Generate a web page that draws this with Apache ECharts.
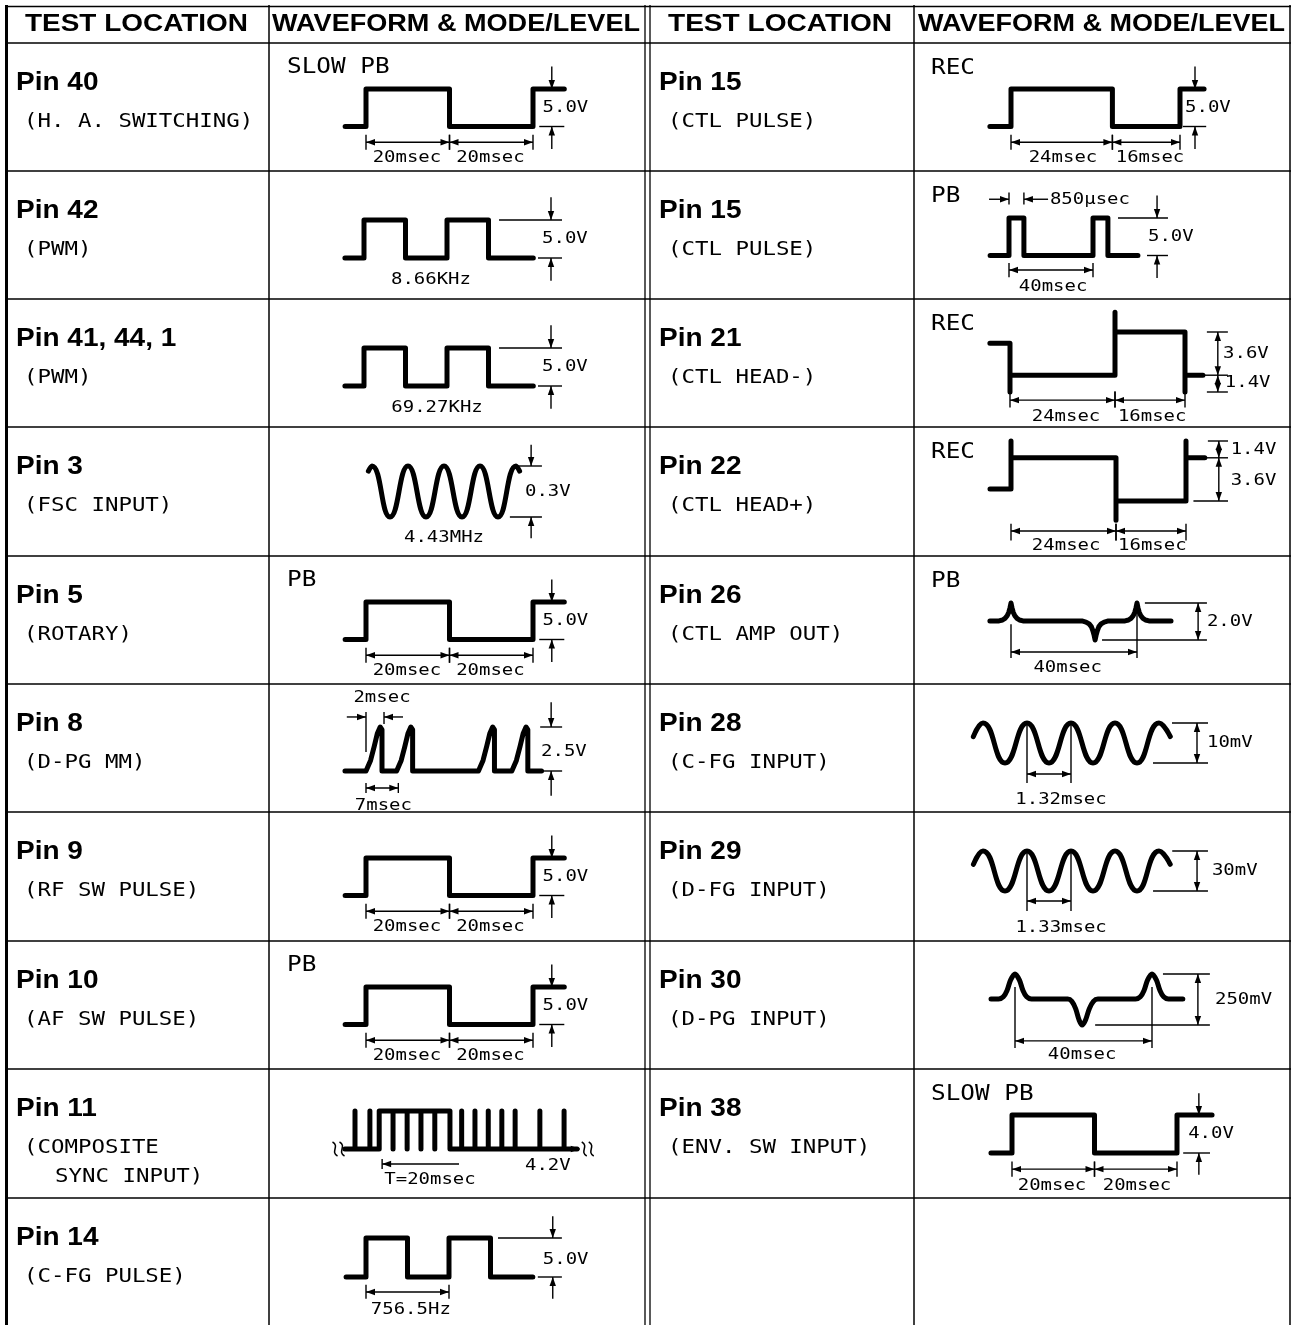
<!DOCTYPE html>
<html><head><meta charset="utf-8">
<script src="https://cdn.jsdelivr.net/npm/echarts@6/dist/echarts.min.js"></script>
<style>html,body{margin:0;padding:0;background:#fff}#c{width:1293px;height:1325px}</style>
</head><body><div id="c"></div>
<script>
// ================= DATA =================
const headerLabels = ['TEST LOCATION', 'WAVEFORM & MODE/LEVEL'];
const leftPins  = ['Pin 40','Pin 42','Pin 41, 44, 1','Pin 3','Pin 5','Pin 8','Pin 9','Pin 10','Pin 11','Pin 14'];
const leftNames = ['(H. A. SWITCHING)','(PWM)','(PWM)','(FSC INPUT)','(ROTARY)','(D-PG MM)','(RF SW PULSE)','(AF SW PULSE)',['(COMPOSITE','SYNC INPUT)'],'(C-FG PULSE)'];
const leftModes = ['SLOW PB','','','','PB','','','PB','',''];
const rightPins  = ['Pin 15','Pin 15','Pin 21','Pin 22','Pin 26','Pin 28','Pin 29','Pin 30','Pin 38'];
const rightNames = ['(CTL PULSE)','(CTL PULSE)','(CTL HEAD-)','(CTL HEAD+)','(CTL AMP OUT)','(C-FG INPUT)','(D-FG INPUT)','(D-PG INPUT)','(ENV. SW INPUT)'];
const rightModes = ['REC','PB','REC','REC','PB','','','','SLOW PB'];

// waveforms: [time, level]
const pin40Wave = [[-5,0],[0,0],[0,5],[20,5],[20,0],[40,0],[40,5],[47.5,5]];          // ms, V
const pin42Wave = [[-0.23,0],[0,0],[0,5],[0.5,5],[0.5,0],[1,0],[1,5],[1.5,5],[1.5,0],[2.04,0]]; // periods, V
const pin41Wave = [[-0.23,0],[0,0],[0,5],[0.5,5],[0.5,0],[1,0],[1,5],[1.5,5],[1.5,0],[2.04,0]];
const pin3Wave  = [[-0.1,0.27],[0,0.3],[0.5,0],[1,0.3],[1.5,0],[2,0.3],[2.5,0],[3,0.3],[3.5,0],[4,0.3],[4.1,0.27]]; // periods, V
const pin5Wave  = [[-5,0],[0,0],[0,5],[20,5],[20,0],[40,0],[40,5],[47.5,5]];
const pin8Wave  = [[-4.6,0],[0,0],[1.0,0.6],[1.8,1.4],[2.5,2.15],[3.1,2.5],[3.5,2.35],[3.5,0],
                   [6.7,0],[7.7,0.6],[8.5,1.4],[9.2,2.15],[9.8,2.5],[10.2,2.35],[10.2,0],
                   [24.6,0],[25.6,0.6],[26.4,1.4],[27.1,2.15],[27.7,2.5],[28.1,2.35],[28.1,0],
                   [31.9,0],[32.9,0.6],[33.7,1.4],[34.4,2.15],[35.0,2.5],[35.4,2.35],[35.4,0],[38.4,0]];
const pin9Wave  = [[-5,0],[0,0],[0,5],[20,5],[20,0],[40,0],[40,5],[47.5,5]];
const pin10Wave = [[-5,0],[0,0],[0,5],[20,5],[20,0],[40,0],[40,5],[47.5,5]];
const pin11Wave = [[-0.38,0],[0,0],[0,4.2],[0,0],[0.56,0],[0.56,4.2],[0.56,0],[0.91,0],[0.91,4.2],
                   [1.43,4.2],[1.43,0],[1.43,4.2],[1.96,4.2],[1.96,0],[1.96,4.2],[2.48,4.2],[2.48,0],[2.48,4.2],
                   [3.0,4.2],[3.0,0],[3.0,4.2],[3.57,4.2],[3.57,0],
                   [4.01,0],[4.01,4.2],[4.01,0],[4.51,0],[4.51,4.2],[4.51,0],[5.01,0],[5.01,4.2],[5.01,0],
                   [5.52,0],[5.52,4.2],[5.52,0],[6.02,0],[6.02,4.2],[6.02,0],[6.95,0],[6.95,4.2],[6.95,0],
                   [7.86,0],[7.86,4.2],[7.86,0],[8.35,0]];                                   // lines (H), V
const pin14Wave = [[-0.24,0],[0,0],[0,5],[0.5,5],[0.5,0],[1,0],[1,5],[1.5,5],[1.5,0],[2.01,0]];
const pin15RecWave = [[-5,0],[0,0],[0,5],[24,5],[24,0],[40,0],[40,5],[45.7,5]];
const pin15PbWave  = [[-9,0],[0,0],[0,5],[7.1,5],[7.1,0],[40,0],[40,5],[47.1,5],[47.1,0],[61.4,0]];
const pin21Wave = [[-4.6,2.67],[0,2.67],[0,-1.4],[0,0],[24,0],[24,5.25],[24,3.6],[40,3.6],[40,-1.4],[40,0],[44.1,0]];
const pin22Wave = [[-4.8,-2.6],[0,-2.6],[0,1.4],[0,0],[24,0],[24,-5.2],[24,-3.6],[40,-3.6],[40,1.4],[40,0],[44.3,0]];
const pin26Wave = [[-6.7,1.03],[-3.8,1.03],[-2.7,1.08],[-1.9,1.17],[-1.25,1.3],[-0.7,1.5],[-0.3,1.75],[0,2],[0.3,1.75],[0.7,1.5],[1.25,1.3],[1.9,1.17],[2.7,1.08],[3.8,1.03],
                   [22.5,1.03],[23.8,0.97],[24.8,0.87],[25.5,0.72],[26.0,0.5],[26.4,0.25],[26.7,0],[27.0,0.25],[27.4,0.5],[27.9,0.72],[28.6,0.87],[29.6,0.97],[30.9,1.03],
                   [36.2,1.03],[37.3,1.08],[38.1,1.17],[38.75,1.3],[39.3,1.5],[39.7,1.75],[40,2],[40.3,1.75],[40.7,1.5],[41.25,1.3],[41.9,1.17],[42.7,1.08],[43.8,1.03],[50.8,1.03]];
const pin28Wave = [[-0.29,6.6],[0,10],[0.66,0],[1.32,10],[1.98,0],[2.64,10],[3.3,0],[3.96,10],[4.62,0],[5.28,10],[5.62,6.6]];   // ms, mV
const pin29Wave = [[-0.29,20],[0,30],[0.665,0],[1.33,30],[1.995,0],[2.66,30],[3.325,0],[3.99,30],[4.655,0],[5.32,30],[5.66,20]];
const pin30Wave = [[-7,127],[-4.8,127],[-3.4,138],[-2.3,170],[-1.3,220],[0,250],[1.3,220],[2.3,170],[3.4,138],[4.8,127],
                   [15.4,127],[16.6,116],[17.7,80],[18.7,25],[19.6,0],[20.6,25],[21.7,80],[22.9,116],[24.2,127],
                   [35.2,127],[36.6,138],[37.7,170],[38.7,220],[40,250],[41.3,220],[42.3,170],[43.4,138],[44.8,127],[49,127]];
const pin38Wave = [[-5.1,0],[0,0],[0,4],[20,4],[20,0],[40,0],[40,4],[48.5,4]];

// annotations (in each waveform's own data units)
const ann20x20 = [['vout',44.5,5,0,3],['hline',41.5,47.5,0],['text',42.3,2.5,'5.0V','left'],
  ['hdim',0,20,-2.1,-1.1,-3.1],['hdim',20,40,-2.1,-1.1,-3.1],['text',9.8,-4.2,'20msec'],['text',29.8,-4.2,'20msec']];
const ann42 = [['vout',2.253,5,0,3],['hline',1.627,2.386,5],['hline',2.096,2.386,0],['text',2.145,2.5,'5.0V','left'],['text',0.807,-2.9,'8.66KHz']];
const ann41 = [['vout',2.253,5,0,3],['hline',1.627,2.386,5],['hline',2.096,2.386,0],['text',2.145,2.5,'5.0V','left'],['text',0.88,-2.9,'69.27KHz']];
const ann3  = [['vout',4.42,0.3,0,0.125],['hline',4.06,4.72,0.3],['hline',3.83,4.72,0],['text',4.25,0.15,'0.3V','left'],['text',2.0,-0.124,'4.43MHz']];
const ann8  = [['vout',40.5,2.5,0,1.4],['hline',38.1,42.9,2.5],['hline',38.1,42.9,0],['text',38.3,1.1,'2.5V','left'],
  ['vline',0,1.08,3.35],['vline',3.94,2.67,3.35],['arrow',-4.2,3.07,0,3.07],['arrow',8.1,3.07,3.94,3.07],['text',3.5,4.15,'2msec'],
  ['hdim',0,7.07,-0.97,-0.68,-1.25],['text',3.8,-2.0,'7msec']];
const ann11 = [['vline',1.02,-1.1,-2.2],['arrow',3.91,-1.66,1.02,-1.66],['text',2.82,-3.4,'T=20msec'],['text',6.39,-1.9,'4.2V','left'],
  ['arrow',7.95,0,8.45,0],['squiggle',-0.62,0],['squiggle',8.75,0]];
const ann14 = [['vout',2.25,5,0,2.8],['hline',1.59,2.36,5],['hline',2.07,2.36,0],['text',2.13,2.2,'5.0V','left'],
  ['hdim',0,1,-1.92,-1.0,-2.8],['text',0.54,-4.2,'756.5Hz']];
const ann15Rec = [['vout',43.55,5,0,3],['hline',40.7,46.2,0],['text',41.2,2.5,'5.0V','left'],
  ['hdim',0,24,-2.1,-1.1,-3.1],['hdim',24,40,-2.1,-1.1,-3.1],['text',12.3,-4.2,'24msec'],['text',32.9,-4.2,'16msec']];
const ann15Pb = [['vout',70.5,5,0,3],['hline',51.9,75.7,5],['hline',65.7,75.7,0],['text',66.2,2.5,'5.0V','left'],
  ['vline',0,6.8,8.4],['vline',7.1,6.8,8.4],['arrow',-9.5,7.5,0,7.5],['arrow',18.6,7.5,7.1,7.5],['text',19.5,7.45,'850μsec','left'],
  ['hdim',0,40,-1.93,-1.0,-2.9],['text',21,-4.2,'40msec']];
const ann21 = [['vin',47.5,3.6,0],['vin',47.5,0,-1.4],['hline',45,49.8,3.6],['hline',44.1,49.8,0],['hline',45,49.8,-1.4],
  ['text',48.7,1.8,'3.6V','left'],['text',49.1,-0.6,'1.4V','left'],
  ['hdim',0,24,-2.08,-1.35,-2.7],['hdim',24,40,-2.08,-1.35,-2.7],['text',12.8,-3.5,'24msec'],['text',32.5,-3.5,'16msec']];
const ann22 = [['vin',47.5,1.4,0],['vin',47.5,0,-3.6],['hline',45,49.6,1.4],['hline',44.3,49.6,0],['hline',41.7,49.6,-3.6],
  ['text',50.2,0.7,'1.4V','left'],['text',50.2,-1.9,'3.6V','left'],
  ['hdim',0,24,-6.1,-5.5,-6.9],['hdim',24,40,-6.1,-5.5,-6.9],['text',12.6,-7.35,'24msec'],['text',32.3,-7.35,'16msec']];
const ann26 = [['vin',59.4,2,0],['hline',42.5,62.2,2],['hline',28.9,62.2,0],['text',62.2,1.0,'2.0V','left'],
  ['vline',0,0.85,-0.97],['vline',40,2,-0.97],['harrow',0,40,-0.65],['text',18,-1.5,'40msec']];
const ann28 = [['vin',6.42,10,0],['hline',5.67,6.75,10],['hline',5.1,6.75,0],['text',6.72,5,'10mV','left'],
  ['vline',1.32,10,-5],['vline',2.64,10,-5],['harrow',1.32,2.64,-2.75],['text',2.34,-9.25,'1.32msec']];
const ann29 = [['vin',6.47,30,0],['hline',5.72,6.8,30],['hline',5.14,6.8,0],['text',6.92,15,'30mV','left'],
  ['vline',1.33,30,-15],['vline',2.66,30,-15],['harrow',1.33,2.66,-7.5],['text',2.36,-27.75,'1.33msec']];
const ann30 = [['vin',53.4,250,0],['hline',43.2,56.9,250],['hline',23.4,56.9,0],['text',58.4,125,'250mV','left'],
  ['vline',0,186,-113],['vline',40,186,-113],['harrow',0,40,-78],['text',19.6,-147,'40msec']];
const ann38 = [['vout',45.3,4,0,2.3],['hline',41.5,48,0],['text',42.7,2.0,'4.0V','left'],
  ['hdim',0,20,-1.7,-0.9,-2.5],['hdim',20,40,-1.7,-0.9,-2.5],['text',9.7,-3.4,'20msec'],['text',30.3,-3.4,'20msec']];

// ================= LAYOUT =================
const rowTops = [43,171,299,427,556,684,812,941,1069,1198];
// x: [tA, pxA, tB, pxB]   y: [vA, offsetA, vB, offsetB] (offsets from row top)
const cells = [
  {row:0, wave:pin40Wave, ann:ann20x20, x:[0,366,40,533], y:[0,83.5,5,46]},
  {row:1, wave:pin42Wave, ann:ann42, x:[0,364,1,447], y:[0,87,5,49]},
  {row:2, wave:pin41Wave, ann:ann41, x:[0,364,1,447], y:[0,87,5,49]},
  {row:3, wave:pin3Wave,  ann:ann3,  x:[0,372,4,516], y:[0,90,0.3,39], smooth:true},
  {row:4, wave:pin5Wave,  ann:ann20x20, x:[0,366,40,533], y:[0,83.5,5,46]},
  {row:5, wave:pin8Wave,  ann:ann8,  x:[0,366,7,398], y:[0,87,2.5,43]},
  {row:6, wave:pin9Wave,  ann:ann20x20, x:[0,366,40,533], y:[0,83.5,5,46]},
  {row:7, wave:pin10Wave, ann:ann20x20, x:[0,366,40,533], y:[0,83.5,5,46]},
  {row:8, wave:pin11Wave, ann:ann11, x:[0,355,8,567.8], y:[0,80,4.2,42]},
  {row:9, wave:pin14Wave, ann:ann14, x:[0,366,1,449], y:[0,79,5,40]},
  {row:0, wave:pin15RecWave, ann:ann15Rec, x:[0,1011,40,1180], y:[0,83.5,5,46]},
  {row:1, wave:pin15PbWave,  ann:ann15Pb,  x:[0,1009,40,1093], y:[0,84.5,5,47]},
  {row:2, wave:pin21Wave, ann:ann21, x:[0,1010,40,1185], y:[-1.4,93,3.6,33]},
  {row:3, wave:pin22Wave, ann:ann22, x:[0,1011,40,1186], y:[-3.6,74,1.4,14]},
  {row:4, wave:pin26Wave, ann:ann26, x:[0,1011,40,1137], y:[0,84,2,47]},
  {row:5, wave:pin28Wave, ann:ann28, x:[0,983,1.32,1027], y:[0,79,10,39], smooth:true},
  {row:6, wave:pin29Wave, ann:ann29, x:[0,983,1.33,1027], y:[0,79,30,39], smooth:true},
  {row:7, wave:pin30Wave, ann:ann30, x:[0,1015,40,1152], y:[0,84,250,33], smooth:0.35},
  {row:8, wave:pin38Wave, ann:ann38, x:[0,1012,40,1177], y:[0,84,4,46]}
];

const INK = '#000';
const WAVE_W = 5, DIM_W = 1.4, AL = 9, AW = 3.2;
const ANN = {size:16.5, family:'"DejaVu Sans Mono", monospace', weight:'normal', sx:1.15};
const SUB = {size:20, family:'"DejaVu Sans Mono", monospace', weight:'normal', sx:1.12};
const MODE = {size:21, family:'"DejaVu Sans Mono", monospace', weight:'normal', sx:1.16};
const PIN = {size:25, family:'"Liberation Sans", Arial, sans-serif', weight:'bold', sx:1.12};
const HEAD = {size:23, family:'"Liberation Sans", Arial, sans-serif', weight:'bold'};

function textEl(str, x, y, f, align, sx){
  return {type:'text', x:x, y:y, scaleX:(sx!=null?sx:f.sx), silent:true,
    style:{text:str, fill:INK, fontSize:f.size, fontFamily:f.family, fontWeight:f.weight,
      align:align, verticalAlign:'middle', textAlign:align, textVerticalAlign:'middle'}};
}
const mctx = document.createElement('canvas').getContext('2d');
function fitScale(str, f, w){ mctx.font = f.weight+' '+f.size+'px '+f.family; return w / mctx.measureText(str).width; }

function makeRender(ann){
  return function(params, api){
    const a = ann[api.value(0)];
    const P = (t,v) => api.coord([t,v]);
    const ch = [];
    const seg = (p,q) => ch.push({type:'line', shape:{x1:p[0],y1:p[1],x2:q[0],y2:q[1]}, style:{stroke:INK, lineWidth:DIM_W}});
    const head = (tip,dx,dy) => { const bx=tip[0]-dx*AL, by=tip[1]-dy*AL, nx=-dy*AW, ny=dx*AW;
      ch.push({type:'polygon', shape:{points:[[tip[0],tip[1]],[bx+nx,by+ny],[bx-nx,by-ny]]}, style:{fill:INK}}); };
    const dirTo = (p,q) => { const dx=q[0]-p[0], dy=q[1]-p[1], l=Math.hypot(dx,dy)||1; return [dx/l,dy/l]; };
    switch(a[0]){
      case 'hdim': { const p=P(a[1],a[3]), q=P(a[2],a[3]); seg(p,q);
        seg(P(a[1],a[4]),P(a[1],a[5])); seg(P(a[2],a[4]),P(a[2],a[5])); head(p,-1,0); head(q,1,0); break; }
      case 'harrow': { const p=P(a[1],a[3]), q=P(a[2],a[3]); seg(p,q); head(p,-1,0); head(q,1,0); break; }
      case 'vout': { const t=a[1]; const h=P(t,a[2]), h2=P(t,a[2]+a[4]), l=P(t,a[3]), l2=P(t,a[3]-a[4]);
        seg(h2,h); head(h,0,1); seg(l2,l); head(l,0,-1); break; }
      case 'vin': { const p=P(a[1],a[2]), q=P(a[1],a[3]); seg(p,q); const d=dirTo(q,p); head(p,d[0],d[1]); head(q,-d[0],-d[1]); break; }
      case 'hline': seg(P(a[1],a[3]),P(a[2],a[3])); break;
      case 'vline': seg(P(a[1],a[2]),P(a[1],a[3])); break;
      case 'arrow': { const p=P(a[1],a[2]), q=P(a[3],a[4]); seg(p,q); const d=dirTo(p,q); head(q,d[0],d[1]); break; }
      case 'text': { const p=P(a[1],a[2]); ch.push(textEl(a[3],p[0],p[1],ANN,a[4]||'center')); break; }
      case 'squiggle': { const p=P(a[1],a[2]);
        [-3.5,3.5].forEach(o => { const x=p[0]+o, y=p[1];
          ch.push({type:'bezierCurve', shape:{x1:x-2.5,y1:y-7,x2:x+2.5,y2:y+7,cpx1:x+5,cpy1:y-3,cpx2:x-5,cpy2:y+3},
            style:{stroke:INK, lineWidth:1.5, fill:null}}); });
        break; }
    }
    return {type:'group', children:ch};
  };
}

// ================= BUILD =================
const g = [];
const L = (x1,y1,x2,y2,w) => g.push({type:'line', silent:true, shape:{x1,y1,x2,y2}, style:{stroke:INK, lineWidth:w}});
// table frame
L(5,6.5,1291,6.5,1.5);
rowTops.forEach(y => L(5,y,1291,y,1.5));
L(6.5,5,6.5,1325,3);
L(269,5,269,1325,1.5);
L(645,5,645,1325,1.3);
L(650,5,650,1325,1.3);
L(914,5,914,1325,1.5);
L(1290,5,1290,1325,1.5);
// headers
[[headerLabels[0],136.5,223],[headerLabels[1],456,368],[headerLabels[0],780,224],[headerLabels[1],1101.5,367]].forEach(h => {
  g.push(textEl(h[0], h[1], 25, HEAD, 'center', fitScale(h[0], HEAD, h[2])));
});
// left column labels
leftPins.forEach((p,i) => {
  const rt = rowTops[i];
  g.push(textEl(p, 16, rt+40, PIN, 'left'));
  const n = leftNames[i];
  if (Array.isArray(n)) { g.push(textEl(n[0], 24, rt+79, SUB, 'left')); g.push(textEl(n[1], 55, rt+108, SUB, 'left')); }
  else g.push(textEl(n, 24, rt+79, SUB, 'left'));
  if (leftModes[i]) g.push(textEl(leftModes[i], 287, rt+25, MODE, 'left'));
});
rightPins.forEach((p,i) => {
  const rt = rowTops[i];
  g.push(textEl(p, 659, rt+40, PIN, 'left'));
  g.push(textEl(rightNames[i], 668, rt+79, SUB, 'left'));
  if (rightModes[i]) g.push(textEl(rightModes[i], 931, rt+26, MODE, 'left'));
});

const grids=[], xAxes=[], yAxes=[], series=[];
cells.forEach((c,i) => {
  const rt = rowTops[c.row];
  const [tA,pxA,tB,pxB] = c.x, [vA,oA,vB,oB] = c.y;
  const ts = c.wave.map(d=>d[0]), vs = c.wave.map(d=>d[1]);
  const tmin = Math.min(tA, ...ts), tmax = Math.max(tB, ...ts);
  const vmin = Math.min(vA, ...vs), vmax = Math.max(vB, ...vs);
  const kx = (pxB-pxA)/(tB-tA), ky = (oA-oB)/(vB-vA);
  const left = pxA + (tmin-tA)*kx, width = (tmax-tmin)*kx;
  const top = rt + oA - (vmax-vA)*ky, height = (vmax-vmin)*ky;
  grids.push({left:left, top:top, width:width, height:height, containLabel:false});
  xAxes.push({type:'value', gridIndex:i, min:tmin, max:tmax, show:false});
  yAxes.push({type:'value', gridIndex:i, min:vmin, max:vmax, show:false});
  series.push({type:'line', xAxisIndex:i, yAxisIndex:i, data:c.wave, symbol:'none', showSymbol:false,
    smooth:c.smooth||false, clip:false, silent:true, z:3,
    lineStyle:{color:INK, width:WAVE_W, cap:'round', join:'round'}});
  series.push({type:'custom', xAxisIndex:i, yAxisIndex:i, data:c.ann.map((_,k)=>[k,0]),
    renderItem:makeRender(c.ann), silent:true, clip:false, z:4});
});

const chart = echarts.init(document.getElementById('c'), null, {renderer:'canvas', width:1293, height:1325});
chart.setOption({
  backgroundColor:'#fff', animation:false,
  grid:grids, xAxis:xAxes, yAxis:yAxes, series:series,
  graphic:{elements:g}
});
</script></body></html>
